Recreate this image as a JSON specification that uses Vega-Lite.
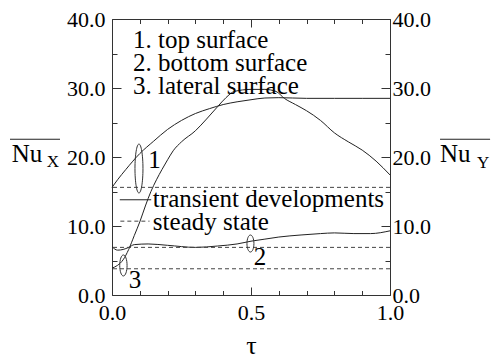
{
  "$schema": "https://vega.github.io/schema/vega-lite/v6.json",
  "width": 278,
  "height": 276,
  "autosize": "none",
  "padding": {"left": 112, "top": 19, "right": 104, "bottom": 67},
  "background": "white",
  "view": {"stroke": null},
  "config": {"font": "Liberation Serif"},
  "datasets": {
    "curves": [
      {"tau": 0, "nu": 15.6, "surface": "1"},
      {"tau": 0.02, "nu": 16.7, "surface": "1"},
      {"tau": 0.05, "nu": 18.2, "surface": "1"},
      {"tau": 0.1, "nu": 20.5, "surface": "1"},
      {"tau": 0.15, "nu": 22.3, "surface": "1"},
      {"tau": 0.2, "nu": 24.0, "surface": "1"},
      {"tau": 0.25, "nu": 25.3, "surface": "1"},
      {"tau": 0.3, "nu": 26.3, "surface": "1"},
      {"tau": 0.35, "nu": 27.0, "surface": "1"},
      {"tau": 0.4, "nu": 27.6, "surface": "1"},
      {"tau": 0.45, "nu": 28.0, "surface": "1"},
      {"tau": 0.5, "nu": 28.3, "surface": "1"},
      {"tau": 0.55, "nu": 28.55, "surface": "1"},
      {"tau": 0.6, "nu": 28.6, "surface": "1"},
      {"tau": 0.7, "nu": 28.5, "surface": "1"},
      {"tau": 0.8, "nu": 28.5, "surface": "1"},
      {"tau": 0.9, "nu": 28.5, "surface": "1"},
      {"tau": 1.0, "nu": 28.5, "surface": "1"},
      {"tau": 0, "nu": 7.0, "surface": "2"},
      {"tau": 0.02, "nu": 6.5, "surface": "2"},
      {"tau": 0.04, "nu": 6.6, "surface": "2"},
      {"tau": 0.06, "nu": 6.9, "surface": "2"},
      {"tau": 0.08, "nu": 7.3, "surface": "2"},
      {"tau": 0.13, "nu": 7.4, "surface": "2"},
      {"tau": 0.2, "nu": 7.2, "surface": "2"},
      {"tau": 0.3, "nu": 6.9, "surface": "2"},
      {"tau": 0.38, "nu": 7.1, "surface": "2"},
      {"tau": 0.45, "nu": 7.4, "surface": "2"},
      {"tau": 0.5, "nu": 7.8, "surface": "2"},
      {"tau": 0.55, "nu": 8.1, "surface": "2"},
      {"tau": 0.6, "nu": 8.4, "surface": "2"},
      {"tau": 0.68, "nu": 8.7, "surface": "2"},
      {"tau": 0.75, "nu": 8.9, "surface": "2"},
      {"tau": 0.8, "nu": 9.0, "surface": "2"},
      {"tau": 0.87, "nu": 8.9, "surface": "2"},
      {"tau": 0.93, "nu": 8.9, "surface": "2"},
      {"tau": 1.0, "nu": 9.3, "surface": "2"},
      {"tau": 0, "nu": 3.9, "surface": "3"},
      {"tau": 0.02, "nu": 4.3, "surface": "3"},
      {"tau": 0.04, "nu": 5.1, "surface": "3"},
      {"tau": 0.06, "nu": 6.6, "surface": "3"},
      {"tau": 0.08, "nu": 8.6, "surface": "3"},
      {"tau": 0.1, "nu": 10.6, "surface": "3"},
      {"tau": 0.12, "nu": 12.9, "surface": "3"},
      {"tau": 0.14, "nu": 15.0, "surface": "3"},
      {"tau": 0.16, "nu": 16.7, "surface": "3"},
      {"tau": 0.18, "nu": 18.2, "surface": "3"},
      {"tau": 0.2, "nu": 19.6, "surface": "3"},
      {"tau": 0.22, "nu": 20.9, "surface": "3"},
      {"tau": 0.25, "nu": 22.2, "surface": "3"},
      {"tau": 0.3, "nu": 23.8, "surface": "3"},
      {"tau": 0.34, "nu": 25.5, "surface": "3"},
      {"tau": 0.38, "nu": 27.3, "surface": "3"},
      {"tau": 0.41, "nu": 28.6, "surface": "3"},
      {"tau": 0.44, "nu": 29.5, "surface": "3"},
      {"tau": 0.5, "nu": 29.8, "surface": "3"},
      {"tau": 0.55, "nu": 29.8, "surface": "3"},
      {"tau": 0.59, "nu": 29.5, "surface": "3"},
      {"tau": 0.62, "nu": 28.5, "surface": "3"},
      {"tau": 0.66, "nu": 27.6, "surface": "3"},
      {"tau": 0.7, "nu": 26.7, "surface": "3"},
      {"tau": 0.75, "nu": 25.3, "surface": "3"},
      {"tau": 0.8, "nu": 23.5, "surface": "3"},
      {"tau": 0.85, "nu": 22.2, "surface": "3"},
      {"tau": 0.9, "nu": 21.0, "surface": "3"},
      {"tau": 0.95, "nu": 19.4, "surface": "3"},
      {"tau": 1.0, "nu": 17.4, "surface": "3"}
    ],
    "steady": [
      {"surface": "1", "nu": 15.6},
      {"surface": "2", "nu": 6.9},
      {"surface": "3", "nu": 3.8}
    ],
    "legend": [
      {"kind": "transient", "tau": 0.028, "tau2": 0.141, "nu": 13.8},
      {"kind": "steady", "tau": 0.03, "tau2": 0.135, "nu": 10.7}
    ],
    "labels": [
      {"role": "main", "text": "1. top surface", "tau": 0.0755, "nu": 35.8},
      {"role": "main", "text": "2. bottom surface", "tau": 0.0755, "nu": 32.4},
      {"role": "main", "text": "3. lateral surface", "tau": 0.0755, "nu": 29.1},
      {"role": "main", "text": "transient developments", "tau": 0.147, "nu": 12.8},
      {"role": "main", "text": "steady state", "tau": 0.147, "nu": 9.4},
      {"role": "main", "text": "1", "tau": 0.13, "nu": 18.4},
      {"role": "main", "text": "2", "tau": 0.51, "nu": 4.35},
      {"role": "main", "text": "3", "tau": 0.06, "nu": 1.0},
      {"role": "main", "text": "Nu", "tau": -0.361, "nu": 19.23},
      {"role": "main", "text": "Nu", "tau": 1.18, "nu": 19.23},
      {"role": "sub", "text": "X", "tau": -0.235, "nu": 18.55},
      {"role": "sub", "text": "Y", "tau": 1.313, "nu": 18.45}
    ],
    "overlines": [
      {"side": "left", "tau": -0.367, "tau2": -0.187, "nu": 22.57},
      {"side": "right", "tau": 1.18, "tau2": 1.36, "nu": 22.57}
    ],
    "ellipses": [
      {"label": "1", "tau": 0.097, "nu": 18.33},
      {"label": "2", "tau": 0.498, "nu": 7.46},
      {"label": "3", "tau": 0.041, "nu": 4.28}
    ]
  },
  "layer": [
    {
      "data": {"name": "curves"},
      "mark": {"type": "line", "color": "#222", "strokeWidth": 1, "interpolate": "monotone"},
      "encoding": {
        "x": {
          "field": "tau", "type": "quantitative",
          "scale": {"domain": [0, 1], "nice": false, "zero": false},
          "axis": {
            "orient": "bottom",
            "values": [0, 0.1, 0.2, 0.3, 0.4, 0.5, 0.6, 0.7, 0.8, 0.9, 1.0],
            "labelExpr": "abs(datum.value*2-round(datum.value*2))<0.001 ? format(datum.value, '.1f') : ''",
            "tickSize": {"condition": {"test": "abs(datum.value*2-round(datum.value*2))<0.001", "value": -8}, "value": -4.5},
            "tickColor": "#333", "domainColor": "#333", "grid": false,
            "labelFont": "Liberation Serif", "labelFontSize": 22, "labelColor": "black",
            "labelPadding": 15, "labelFlush": false, "labelOverlap": false, "labelBound": false,
            "title": "τ", "titleFont": "Liberation Serif", "titleFontSize": 26, "titleFontWeight": "normal", "titleColor": "black", "titlePadding": 6
          }
        },
        "y": {
          "field": "nu", "type": "quantitative",
          "scale": {"domain": [0, 40], "nice": false, "zero": false},
          "axis": {
            "orient": "left",
            "values": [0, 5, 10, 15, 20, 25, 30, 35, 40],
            "labelExpr": "datum.value % 10 === 0 ? format(datum.value, '.1f') : ''",
            "tickSize": {"condition": {"test": "datum.value % 10 === 0", "value": -9}, "value": -5},
            "tickColor": "#333", "domainColor": "#333", "grid": false,
            "labelFont": "Liberation Serif", "labelFontSize": 22, "labelColor": "black",
            "labelPadding": 16, "labelFlush": false, "labelOverlap": false, "labelBound": false,
            "title": null
          }
        },
        "detail": {"field": "surface"}
      }
    },
    {
      "data": {"name": "steady"},
      "mark": {"type": "rule", "color": "#444", "strokeWidth": 1, "strokeDash": [4, 3]},
      "encoding": {
        "y": {
          "field": "nu", "type": "quantitative",
          "axis": {
            "orient": "right",
            "values": [0, 5, 10, 15, 20, 25, 30, 35, 40],
            "labelExpr": "datum.value % 10 === 0 ? format(datum.value, '.1f') : ''",
            "tickSize": {"condition": {"test": "datum.value % 10 === 0", "value": -9}, "value": -5},
            "tickColor": "#333", "domainColor": "#333", "grid": false,
            "labelFont": "Liberation Serif", "labelFontSize": 22, "labelColor": "black",
            "labelPadding": 11, "labelFlush": false, "labelOverlap": false, "labelBound": false,
            "title": null
          }
        }
      }
    },
    {
      "data": {"name": "legend"},
      "transform": [{"filter": "datum.kind === 'transient'"}],
      "mark": {"type": "rule", "color": "#222", "strokeWidth": 1},
      "encoding": {
        "x": {
          "field": "tau", "type": "quantitative",
          "axis": {
            "orient": "top",
            "values": [0, 0.1, 0.2, 0.3, 0.4, 0.5, 0.6, 0.7, 0.8, 0.9, 1.0],
            "labels": false,
            "tickSize": {"condition": {"test": "abs(datum.value*2-round(datum.value*2))<0.001", "value": -8}, "value": -4.5},
            "tickColor": "#333", "domainColor": "#333", "grid": false,
            "title": null
          }
        },
        "x2": {"field": "tau2"},
        "y": {"field": "nu", "type": "quantitative", "axis": null}
      }
    },
    {
      "data": {"name": "legend"},
      "transform": [{"filter": "datum.kind === 'steady'"}],
      "mark": {"type": "rule", "color": "#444", "strokeWidth": 1, "strokeDash": [4, 3]},
      "encoding": {
        "x": {"field": "tau", "type": "quantitative", "axis": null},
        "x2": {"field": "tau2"},
        "y": {"field": "nu", "type": "quantitative", "axis": null}
      }
    },
    {
      "data": {"name": "overlines"},
      "mark": {"type": "rule", "color": "#222", "strokeWidth": 1.2},
      "encoding": {
        "x": {"field": "tau", "type": "quantitative", "axis": null},
        "x2": {"field": "tau2"},
        "y": {"field": "nu", "type": "quantitative", "axis": null}
      }
    },
    {
      "data": {"name": "labels"},
      "transform": [{"filter": "datum.role === 'main'"}],
      "mark": {"type": "text", "font": "Liberation Serif", "fontSize": 25, "align": "left", "baseline": "alphabetic", "color": "black"},
      "encoding": {
        "x": {"field": "tau", "type": "quantitative", "axis": null},
        "y": {"field": "nu", "type": "quantitative", "axis": null},
        "text": {"field": "text"}
      }
    },
    {
      "data": {"name": "labels"},
      "transform": [{"filter": "datum.role === 'sub'"}],
      "mark": {"type": "text", "font": "Liberation Serif", "fontSize": 17, "align": "left", "baseline": "alphabetic", "color": "black"},
      "encoding": {
        "x": {"field": "tau", "type": "quantitative", "axis": null},
        "y": {"field": "nu", "type": "quantitative", "axis": null},
        "text": {"field": "text"}
      }
    },
    {
      "data": {"name": "ellipses"},
      "transform": [{"filter": "datum.label === '1'"}],
      "mark": {"type": "point", "filled": false, "color": "#333", "strokeWidth": 1, "opacity": 1, "size": 2401, "shape": "M0,-1A0.163,1,0,1,1,0,1A0.163,1,0,1,1,0,-1Z"},
      "encoding": {
        "x": {"field": "tau", "type": "quantitative", "axis": null},
        "y": {"field": "nu", "type": "quantitative", "axis": null}
      }
    },
    {
      "data": {"name": "ellipses"},
      "transform": [{"filter": "datum.label === '2'"}],
      "mark": {"type": "point", "filled": false, "color": "#333", "strokeWidth": 1, "opacity": 1, "size": 289, "shape": "M0,-1A0.41,1,0,1,1,0,1A0.41,1,0,1,1,0,-1Z"},
      "encoding": {
        "x": {"field": "tau", "type": "quantitative", "axis": null},
        "y": {"field": "nu", "type": "quantitative", "axis": null}
      }
    },
    {
      "data": {"name": "ellipses"},
      "transform": [{"filter": "datum.label === '3'"}],
      "mark": {"type": "point", "filled": false, "color": "#333", "strokeWidth": 1, "opacity": 1, "size": 441, "shape": "M0,-1A0.35,1,0,1,1,0,1A0.35,1,0,1,1,0,-1Z"},
      "encoding": {
        "x": {"field": "tau", "type": "quantitative", "axis": null},
        "y": {"field": "nu", "type": "quantitative", "axis": null}
      }
    }
  ],
  "resolve": {"axis": {"x": "independent", "y": "independent"}}
}
